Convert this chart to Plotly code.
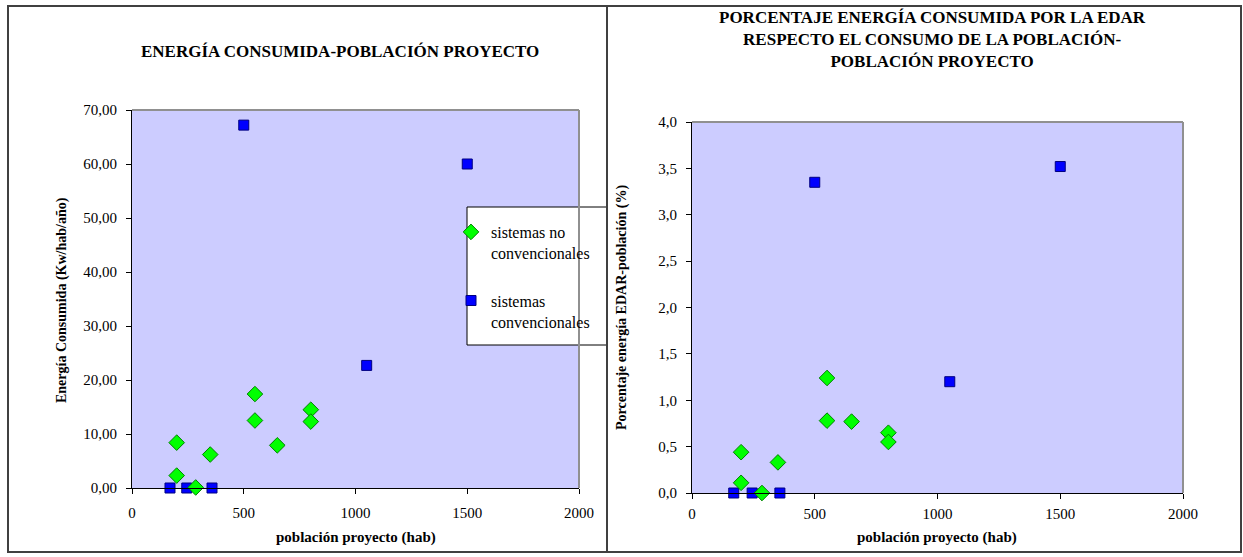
import plotly.graph_objects as go

W, H = 1243, 557

# ---- data ----
pob_noconv = [200, 200, 285, 350, 550, 550, 650, 800, 800]
ener_noconv = [8.4, 2.3, 0.1, 6.2, 17.4, 12.5, 7.9, 14.5, 12.3]
pct_noconv = [0.44, 0.11, 0.0, 0.33, 1.24, 0.78, 0.77, 0.65, 0.55]

pob_conv = [170, 245, 358, 500, 1050, 1500]
ener_conv = [0.0, 0.0, 0.0, 67.2, 22.7, 60.0]
pct_conv = [0.0, 0.0, 0.0, 3.35, 1.2, 3.52]

x_ticks = [0, 500, 1000, 1500, 2000]
y1_ticks = [0, 10, 20, 30, 40, 50, 60, 70]
y2_ticks = [0, 0.5, 1.0, 1.5, 2.0, 2.5, 3.0, 3.5, 4.0]

title1 = "ENERGÍA CONSUMIDA-POBLACIÓN PROYECTO"
title2 = "PORCENTAJE ENERGÍA CONSUMIDA POR LA EDAR<br>RESPECTO EL CONSUMO DE LA POBLACIÓN-<br>POBLACIÓN PROYECTO"
ytitle1 = "Energía Consumida (Kw/hab/año)"
ytitle2 = "Porcentaje energía EDAR-población (%)"
xtitle = "población proyecto (hab)"
name_noconv = "sistemas no<br>convencionales"
name_conv = "sistemas<br>convencionales"

FONT = "Liberation Serif, Times New Roman, DejaVu Serif, serif"

def px(x):
    return x / W

def py(y):
    return 1 - y / H

green_marker = dict(symbol="diamond", size=12, color="#00FF00", line=dict(color="#008000", width=1))
blue_marker = dict(symbol="square", size=10, color="#0000FF", line=dict(color="#000080", width=1))

fig = go.Figure()
fig.add_trace(go.Scatter(x=pob_conv, y=ener_conv, mode="markers", name=name_conv,
                         legendgroup="conv", legendrank=2,
                         marker=blue_marker, cliponaxis=False, xaxis="x", yaxis="y"))
fig.add_trace(go.Scatter(x=pob_noconv, y=ener_noconv, mode="markers", name=name_noconv,
                         legendgroup="noconv", legendrank=1,
                         marker=green_marker, cliponaxis=False, xaxis="x", yaxis="y"))
fig.add_trace(go.Scatter(x=pob_conv, y=pct_conv, mode="markers", name=name_conv, showlegend=False,
                         legendgroup="conv",
                         marker=blue_marker, cliponaxis=False, xaxis="x2", yaxis="y2"))
fig.add_trace(go.Scatter(x=pob_noconv, y=pct_noconv, mode="markers", name=name_noconv, showlegend=False,
                         legendgroup="noconv",
                         marker=green_marker, cliponaxis=False, xaxis="x2", yaxis="y2"))

L1, R1, T1, B1 = 132, 579, 110, 488
L2, R2, T2, B2 = 692, 1183, 122, 493

axis_common = dict(showgrid=False, zeroline=False, showline=True, linecolor="black", linewidth=1,
                   ticks="outside", ticklen=5, tickcolor="black", automargin=False,
                   tickfont=dict(family=FONT, size=15, color="black"))

fig.update_layout(
    width=W, height=H, margin=dict(l=0, r=0, t=0, b=0, pad=0), autosize=False,
    paper_bgcolor="white", plot_bgcolor="#CCCCFF",
    separators=",.",
    font=dict(family=FONT, color="black"),
    xaxis=dict(domain=[px(L1), px(R1)], range=[0, 2000], tickvals=x_ticks, tickformat="d",
               anchor="y", ticklabelstandoff=6, **axis_common),
    yaxis=dict(domain=[py(B1), py(T1)], range=[0, 70], tickvals=y1_ticks, tickformat=".2f",
               anchor="x", ticklabelstandoff=6, **axis_common),
    xaxis2=dict(domain=[px(L2), px(R2)], range=[0, 2000], tickvals=x_ticks, tickformat="d",
                anchor="y2", ticklabelstandoff=2, **axis_common),
    yaxis2=dict(domain=[py(B2), py(T2)], range=[0, 4], tickvals=y2_ticks, tickformat=".1f",
                anchor="x2", ticklabelstandoff=6, **axis_common),
    showlegend=True,
    legend=dict(x=px(451), y=py(215), xanchor="left", yanchor="top", valign="top",
                bgcolor="rgba(0,0,0,0)", borderwidth=0,
                font=dict(family=FONT, size=16, color="black"),
                traceorder="grouped", tracegroupgap=24, itemwidth=30),
)

shapes = []
# plot area gray border (top/right)
for (l, r, t, b) in [(L1, R1, T1, B1), (L2, R2, T2, B2)]:
    shapes.append(dict(type="line", xref="paper", yref="paper", x0=px(l), x1=px(r), y0=py(t), y1=py(t),
                       line=dict(color="#909090", width=2)))
    shapes.append(dict(type="line", xref="paper", yref="paper", x0=px(r), x1=px(r), y0=py(t), y1=py(b),
                       line=dict(color="#909090", width=2)))
# legend box
shapes.append(dict(type="rect", xref="paper", yref="paper", x0=px(467), x1=px(607), y0=py(345), y1=py(207),
                   line=dict(color="black", width=1), fillcolor="white", layer="below"))
# outer chart borders
for (l, r) in [(8, 607), (607, 1241)]:
    shapes.append(dict(type="rect", xref="paper", yref="paper", x0=px(l), x1=px(r), y0=py(552), y1=py(6),
                       line=dict(color="#404040", width=2), fillcolor="rgba(0,0,0,0)", layer="above"))
fig.update_layout(shapes=shapes)

def note(text, x, y, size, angle=0):
    return dict(text=text, x=px(x), y=py(y), xref="paper", yref="paper", xanchor="center", yanchor="middle",
                showarrow=False, textangle=angle, font=dict(family=FONT, size=size, color="black"))

ann = [
    note(f"<b>{title1}</b>", 340, 52, 17),
    note(f"<b>{title2}</b>", 933, 39, 17),
    note(f"<b>{ytitle1}</b>", 62, 300, 14, -90),
    note(f"<b>{ytitle2}</b>", 622, 308, 14, -90),
    note(f"<b>{xtitle}</b>", 356, 537, 15),
    note(f"<b>{xtitle}</b>", 937, 537, 15),
]
fig.update_layout(annotations=ann)

fig.write_html("out.html", post_script="document.body.style.margin='0';document.body.style.overflow='hidden';")
